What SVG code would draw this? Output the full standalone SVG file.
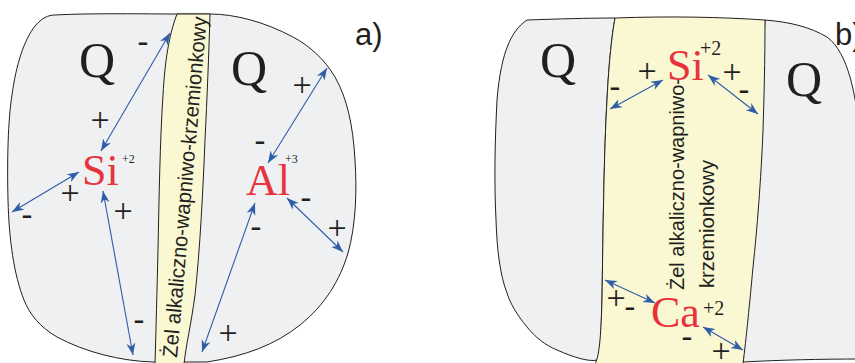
<svg xmlns="http://www.w3.org/2000/svg" width="855" height="363" viewBox="0 0 855 363">
<style>
.grain{fill:#EFF0F2;stroke:#231F20;stroke-width:1}
.gel{fill:#FAF8D2;stroke:#231F20;stroke-width:1}
.q{font-family:"Liberation Serif",serif;font-size:50px;fill:#231F20}
.ion{font-family:"Liberation Serif",serif;font-size:44px;fill:#E8333C}
.sup{font-family:"Liberation Serif",serif;fill:#231F20}
.plus{font-family:"Liberation Serif",serif;font-size:34px;fill:#231F20;text-anchor:middle}
.minus{font-family:"Liberation Sans",sans-serif;font-size:34px;fill:#231F20;text-anchor:middle}
.geltxt{font-family:"Liberation Sans",sans-serif;font-size:21px;fill:#231F20}
.lbl{font-family:"Liberation Sans",sans-serif;font-size:31px;fill:#231F20}
.arr{fill:none;stroke:#2F5DA8;stroke-width:1.1;marker-start:url(#ah);marker-end:url(#ah)}
</style>
<defs>
<marker id="ah" markerUnits="userSpaceOnUse" markerWidth="12" markerHeight="10" viewBox="0 0 12 10" refX="12" refY="5" orient="auto-start-reverse">
<path d="M0,0.5 L12,5 L0,9.5 L3.5,5 Z" fill="#2F5DA8"/>
</marker>
</defs>

<g id="panel-a">
<g id="grain-a">
<path class="grain" d="M55,15 C90,13 150,14 177,14 L210,14 C235,14 265,22 293,37 C310,46 325,60 335,77 C347,98 353,125 355,160 C357,190 356,225 348,253 C340,280 325,305 300,325 C275,345 245,356 207,362 L153,362 C120,361 85,352 57,337 C40,327 30,315 24,300 C14,275 9,240 8,200 C7,160 8,120 12,95 C16,65 24,40 35,26 C42,18 48,15 55,15 Z"/>
</g>
<g id="gel-a">
<path class="gel" d="M177,14 L210,14 C209,50 207,100 205,140 C203,190 200,250 195,295 C191,325 186,345 184,364 L155,364 C156,330 157,290 158,250 C159,200 160,140 163,95 C165,60 169,35 177,14 Z"/>
<text class="geltxt" transform="translate(177,358) rotate(-85)" textLength="342" lengthAdjust="spacingAndGlyphs">Żel alkaliczno-wapniwo-krzemionkowy</text>
</g>
<g id="q-a1"><text class="q" x="79" y="77">Q</text></g>
<g id="q-a2"><text class="q" x="231" y="85">Q</text></g>
<g id="si-a"><text class="ion" x="82" y="185">Si</text><text class="sup" x="122" y="163" font-size="12">+2</text></g>
<g id="al-a"><text class="ion" x="246" y="195">Al</text><text class="sup" x="285" y="163" font-size="12">+3</text></g>
<text class="lbl" x="355" y="45">a)</text>
</g>

<g id="panel-b">
<g id="grain-b1">
<path class="grain" d="M527,20 C555,19 590,18 615,18 C612,35 609,60 607,100 C604,150 603,233 602,300 C601,330 601,350 597,360 C590,362 575,358 557,350 C545,345 535,337 527,327 C517,315 510,303 507,293 C500,275 497,250 496,220 C494,180 495,140 497,100 C499,75 503,57 508,45 C512,35 518,26 527,20 Z"/>
</g>
<g id="grain-b2">
<path class="grain" d="M765,20 C790,22 810,27 827,37 C838,45 845,60 850,77 C853,88 855,98 856,105 L862,110 L862,359 C820,359 780,360 743,362 Z"/>
</g>
<g id="gel-b">
<path class="gel" d="M615,18 C670,16 720,17 765,20 C765,60 764,100 763,130 C761,180 757,230 753,267 C750,300 746,340 743,364 L595,364 C600,355 601,330 602,300 C603,233 604,150 607,100 C609,60 612,35 615,18 Z"/>
<text class="geltxt" transform="translate(684,290) rotate(-90)" textLength="212" lengthAdjust="spacingAndGlyphs">Żel alkaliczno-wapniwo-</text>
<text class="geltxt" transform="translate(714,288) rotate(-90)" textLength="128" lengthAdjust="spacingAndGlyphs">krzemionkowy</text>
</g>
<g id="q-b1"><text class="q" x="540" y="77">Q</text></g>
<g id="q-b2"><text class="q" x="786" y="96">Q</text></g>
<g id="si-b"><text class="ion" x="667" y="80">Si</text><text class="sup" x="700" y="55" font-size="20">+2</text></g>
<g id="ca-b"><text class="ion" x="651" y="327">Ca</text><text class="sup" x="703" y="315" font-size="20">+2</text></g>
<text class="lbl" x="835" y="45">b)</text>
</g>

<g id="connectors">
<path class="arr" d="M101,151 L170,33"/>
<path class="arr" d="M12,212 L79,172"/>
<path class="arr" d="M103,191 L133,355"/>
<path class="arr" d="M268,163 L327,68"/>
<path class="arr" d="M287,198 L343,252"/>
<path class="arr" d="M255,203 L202,352"/>
<path class="arr" d="M610,109 L663,80"/>
<path class="arr" d="M708,75 L758,114"/>
<path class="arr" d="M605,280 L655,303"/>
<path class="arr" d="M703,327 L743,350"/>
</g>

<g id="charges">
<text class="minus" x="143" y="53">-</text>
<text class="plus" x="100" y="130.5">+</text>
<text class="plus" x="70" y="203.5">+</text>
<text class="minus" x="27" y="226">-</text>
<text class="plus" x="123" y="221.5">+</text>
<text class="minus" x="139" y="331">-</text>
<text class="plus" x="302" y="95.5">+</text>
<text class="minus" x="260" y="152">-</text>
<text class="minus" x="306" y="209">-</text>
<text class="plus" x="337" y="238.5">+</text>
<text class="minus" x="256" y="238">-</text>
<text class="plus" x="228" y="343.5">+</text>
<text class="minus" x="615" y="98">-</text>
<text class="plus" x="647" y="81.5">+</text>
<text class="plus" x="732" y="82.5">+</text>
<text class="minus" x="744" y="101">-</text>
<text class="plus" x="616" y="308.5">+</text>
<text class="minus" x="630" y="318">-</text>
<text class="minus" x="687" y="348">-</text>
<text class="plus" x="721" y="361.5">+</text>
</g>
</svg>
